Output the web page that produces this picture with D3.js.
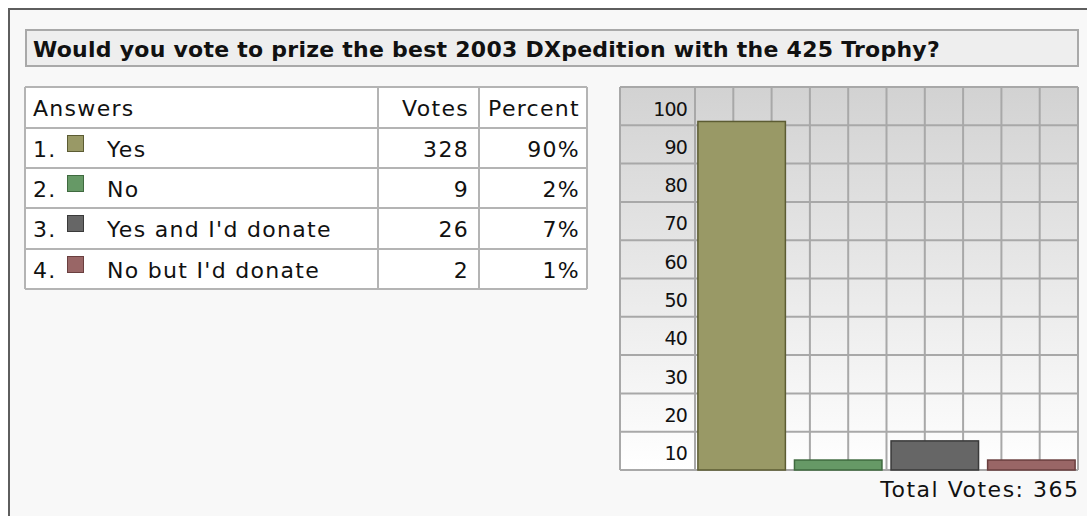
<!DOCTYPE html>
<html>
<head>
<meta charset="utf-8">
<script src="https://cdn.jsdelivr.net/npm/d3@7"></script>
<style>
  body { margin: 0; background: #fff; }
  svg { display: block; font-family: 'DejaVu Sans', Verdana, sans-serif; }
</style>
</head>
<body>
<svg id="canvas" width="1087" height="516"></svg>
<script>
let question = 'Would you vote to prize the best 2003 DXpedition with the 425 Trophy?'
let answers = ['Yes', 'No', "Yes and I'd donate", "No but I'd donate"]
let votes = [328, 9, 26, 2]
let percents = ['90%', '2%', '7%', '1%']
// bar heights as drawn (percent of the 0-100 axis)
let barValues = [91, 2.6, 7.6, 2.6]
let colors = ['#999966', '#669966', '#666666', '#996666']
let strokes = ['#5c5c33', '#3f6a3f', '#3a3a3a', '#6a3f3f']
let yTicks = [10, 20, 30, 40, 50, 60, 70, 80, 90, 100]
let totalLabel = 'Total Votes: 365'

let canvas = d3.select('#canvas')

// outer frame
canvas.append('rect')
  .attr('x', 9).attr('y', 9).attr('width', 1100).attr('height', 540)
  .attr('fill', '#f8f8f8').attr('stroke', '#5e5e5e').attr('stroke-width', 2)

// title box
canvas.append('rect')
  .attr('x', 26).attr('y', 30).attr('width', 1052).attr('height', 36)
  .attr('fill', '#eeeeee').attr('stroke', '#a9a9a9').attr('stroke-width', 2)
canvas.append('text')
  .attr('x', 33).attr('y', 57)
  .attr('font-size', 22).attr('font-weight', 'bold').attr('fill', '#111')
  .attr('letter-spacing', 0.25)
  .text(question)

// ---- table ----
let rowEdges = [87, 128, 168, 208, 249, 289]
let colEdges = [25, 378, 479, 587]
let table = canvas.append('g')

table.append('rect')
  .attr('x', colEdges[0]).attr('y', rowEdges[0])
  .attr('width', colEdges[3] - colEdges[0]).attr('height', rowEdges[5] - rowEdges[0])
  .attr('fill', '#fff')

table.selectAll('line.h')
  .data(rowEdges)
  .enter()
  .append('line')
  .attr('x1', colEdges[0]).attr('x2', colEdges[3])
  .attr('y1', d => d).attr('y2', d => d)
  .attr('stroke', '#b4b4b4').attr('stroke-width', 2)

table.selectAll('line.v')
  .data(colEdges)
  .enter()
  .append('line')
  .attr('x1', d => d).attr('x2', d => d)
  .attr('y1', rowEdges[0]).attr('y2', rowEdges[5])
  .attr('stroke', '#b4b4b4').attr('stroke-width', 2)

let baseline = (i) => rowEdges[i] + 29
let cellText = (x, y, txt, anchor) => {
  table.append('text')
    .attr('x', x).attr('y', y)
    .attr('text-anchor', anchor)
    .attr('font-size', 22).attr('letter-spacing', 1.3).attr('fill', '#111')
    .text(txt)
}

cellText(33, baseline(0), 'Answers', 'start')
cellText(469, baseline(0), 'Votes', 'end')
cellText(580, baseline(0), 'Percent', 'end')

answers.forEach((a, i) => {
  let by = baseline(i + 1)
  cellText(33, by, (i + 1) + '.', 'start')
  table.append('rect')
    .attr('x', 67.5).attr('y', rowEdges[i + 1] + 7.5).attr('width', 16).attr('height', 16)
    .attr('fill', colors[i]).attr('stroke', strokes[i]).attr('stroke-width', 1)
  cellText(107, by, a, 'start')
  cellText(469, by, votes[i], 'end')
  cellText(580, by, percents[i], 'end')
})

// ---- chart ----
let chartLeft = 620, plotLeft = 695, chartRight = 1078, chartTop = 87, chartBottom = 470

let y = d3.scaleLinear().domain([0, 100]).range([chartBottom, chartTop])
let x = d3.scaleBand().domain(answers).range([plotLeft, chartRight])
  .paddingInner(0.094).paddingOuter(0.03)
let gridX = d3.scaleLinear().domain([0, 10]).range([plotLeft, chartRight])

let defs = canvas.append('defs')
let grad = defs.append('linearGradient')
  .attr('id', 'bg').attr('x1', 0).attr('y1', 0).attr('x2', 0).attr('y2', 1)
grad.append('stop').attr('offset', '0%').attr('stop-color', '#d2d2d2')
grad.append('stop').attr('offset', '100%').attr('stop-color', '#ffffff')

let chart = canvas.append('g')

chart.append('rect')
  .attr('x', chartLeft).attr('y', chartTop)
  .attr('width', chartRight - chartLeft).attr('height', chartBottom - chartTop)
  .attr('fill', 'url(#bg)')

chart.selectAll('line.gy')
  .data([0].concat(yTicks))
  .enter()
  .append('line')
  .attr('x1', chartLeft).attr('x2', chartRight)
  .attr('y1', d => y(d)).attr('y2', d => y(d))
  .attr('stroke', '#a8a8a8').attr('stroke-width', 2)

chart.selectAll('line.gx')
  .data(d3.range(11))
  .enter()
  .append('line')
  .attr('x1', d => gridX(d)).attr('x2', d => gridX(d))
  .attr('y1', chartTop).attr('y2', chartBottom)
  .attr('stroke', '#a8a8a8').attr('stroke-width', 2)

chart.append('line')
  .attr('x1', chartLeft).attr('x2', chartLeft).attr('y1', chartTop).attr('y2', chartBottom)
  .attr('stroke', '#a8a8a8').attr('stroke-width', 2)

chart.selectAll('text.tick')
  .data(yTicks)
  .enter()
  .append('text')
  .attr('x', plotLeft - 8)
  .attr('y', d => y(d) + 28.5)
  .attr('text-anchor', 'end')
  .attr('font-size', 19).attr('letter-spacing', -0.8).attr('fill', '#111')
  .text(d => d)

chart.selectAll('rect.bar')
  .data(answers)
  .enter()
  .append('rect')
  .attr('x', d => x(d))
  .attr('width', x.bandwidth())
  .attr('y', (d, i) => y(barValues[i]))
  .attr('height', (d, i) => chartBottom - y(barValues[i]))
  .attr('fill', (d, i) => colors[i])
  .attr('stroke', (d, i) => strokes[i])
  .attr('stroke-width', 1.5)

chart.append('text')
  .attr('x', chartRight + 1.5).attr('y', 497)
  .attr('text-anchor', 'end')
  .attr('font-size', 22).attr('letter-spacing', 1.5).attr('fill', '#111')
  .text(totalLabel)
</script>
</body>
</html>
